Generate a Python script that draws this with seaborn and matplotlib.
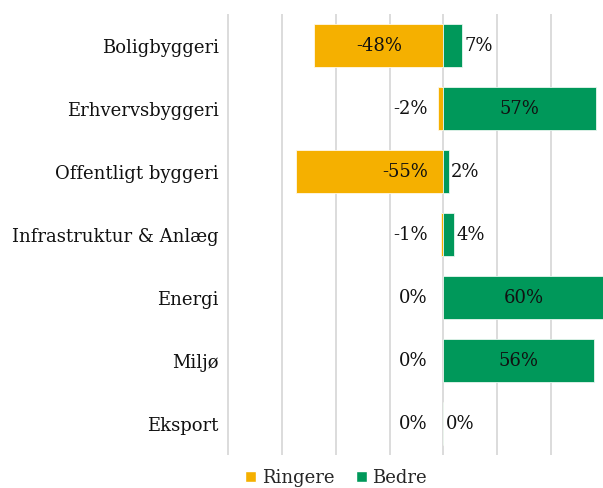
import matplotlib
matplotlib.use("Agg")
import matplotlib.pyplot as plt
import seaborn as sns
import pandas as pd
from matplotlib.patches import Patch

categories = ["Boligbyggeri", "Erhvervsbyggeri", "Offentligt byggeri",
              "Infrastruktur & Anlæg", "Energi", "Miljø", "Eksport"]
ringere = [-48, -2, -55, -1, 0, 0, 0]
bedre = [7, 57, 2, 4, 60, 56, 0]
series_names = ["Ringere", "Bedre"]
orange = "#F5B000"
green = "#00985A"

sns.set_theme(style="white")
plt.rcParams["font.family"] = ["DejaVu Serif"]

fig = plt.figure(figsize=(6.03, 4.88), dpi=100)
px = 2.686
left_px = 443.3 - 81 * px
ax = fig.add_axes([left_px / 603, 1 - 455 / 488, 141 * px / 603, 441 / 488])

df = pd.DataFrame({"cat": categories, "Ringere": ringere, "Bedre": bedre})
sns.barplot(data=df, x="Ringere", y="cat", color=orange, orient="h",
            width=0.67, ax=ax, edgecolor="#FFF8E8", linewidth=0.6, saturation=1)
sns.barplot(data=df, x="Bedre", y="cat", color=green, orient="h",
            width=0.67, ax=ax, edgecolor="#E8F5EE", linewidth=0.6, saturation=1)

ax.set_xlim(-81, 60)
ax.set_xticks([-80, -60, -40, -20, 0, 20, 40, 60])
ax.xaxis.grid(True, color="#D9D9D9", linewidth=1.3)
ax.set_axisbelow(True)
ax.set_xticklabels([])
ax.tick_params(axis="x", length=0)
ax.tick_params(axis="y", length=0, pad=5, labelsize=13, labelcolor="#111111")
ax.set_xlabel("")
ax.set_ylabel("")
for s in ax.spines.values():
    s.set_visible(False)

fs = 13
for i, (r, b) in enumerate(zip(ringere, bedre)):
    if -50 < r <= -40:
        ax.text(r / 2, i, f"{r}%", ha="center", va="center", fontsize=fs, color="#111111")
    else:
        ax.text(-5.8, i, f"{r}%", ha="right", va="center", fontsize=fs, color="#111111")
    if b >= 30:
        ax.text(b / 2, i, f"{b}%", ha="center", va="center", fontsize=fs, color="#111111")
    else:
        ax.text(b + 0.9, i, f"{b}%", ha="left", va="center", fontsize=fs, color="#111111")

handles = [Patch(facecolor=orange), Patch(facecolor=green)]
fig.legend(handles, series_names, loc="center", bbox_to_anchor=(336 / 603, 1 - 478 / 488),
           ncol=2, frameon=False, fontsize=13, handlelength=0.6, handleheight=0.6,
           handletextpad=0.3, columnspacing=1.2, borderaxespad=0)

fig.savefig("out.png", dpi=100)
